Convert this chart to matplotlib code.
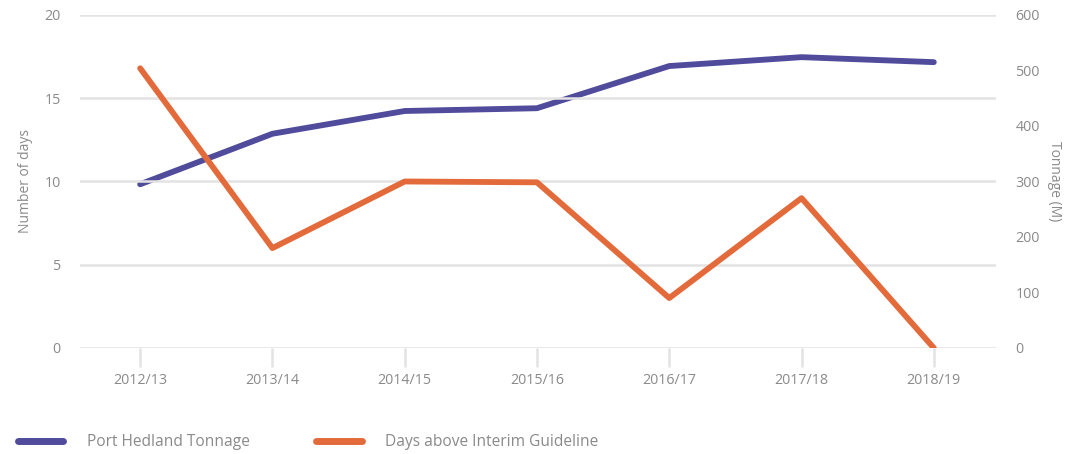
import matplotlib.pyplot as plt
from matplotlib.lines import Line2D

years = ["2012/13", "2013/14", "2014/15", "2015/16", "2016/17", "2017/18", "2018/19"]
days_above = [16.8, 6, 10, 9.95, 3, 9, 0]
tonnage = [295, 386, 427, 432, 508, 524, 515]

PURPLE = "#504c9b"
ORANGE = "#e36b3b"
GREY = "#8a8a8a"
GRID = "#e3e3e3"

plt.rcParams['font.family'] = ['Open Sans', 'DejaVu Sans']

fig = plt.figure(figsize=(10.69, 4.54), dpi=100)
ax = fig.add_axes([0.0748, 0.2335, 0.9317 - 0.0748, 0.967 - 0.2335])
ax2 = ax.twinx()

x = list(range(len(years)))

ax.plot(x, days_above, color=ORANGE, lw=4.2, solid_capstyle="round", zorder=3)
ax2.plot(x, tonnage, color=PURPLE, lw=4.2, solid_capstyle="round", zorder=2)
ax.set_zorder(ax2.get_zorder() + 1)
ax.patch.set_visible(False)

ax.set_xlim(-0.455, 6.47)
ax.set_ylim(0, 20)
ax2.set_ylim(0, 600)
ax.set_yticks([0, 5, 10, 15, 20])
ax2.set_yticks([0, 100, 200, 300, 400, 500, 600])
ax.set_xticks(x)
ax.set_xticklabels(years)

ax.grid(axis="y", color=GRID, lw=1.8)
ax.set_axisbelow(True)
for a in (ax, ax2):
    for s in a.spines.values():
        s.set_visible(False)

ax.tick_params(axis="x", length=14, width=1.8, color=GRID, labelcolor=GREY, labelsize=10.3, pad=4)
ax.tick_params(axis="y", length=0, labelcolor=GREY, labelsize=10.3, pad=14)
ax2.tick_params(axis="y", length=0, labelcolor=GREY, labelsize=10.3, pad=14)

ax.set_ylabel("Number of days", color=GREY, fontsize=10, labelpad=8)
ax2.set_ylabel("Tonnage (M)", color=GREY, fontsize=10, rotation=270, labelpad=16)

handles = [Line2D([], [], color=PURPLE, lw=5, solid_capstyle="round"),
           Line2D([], [], color=ORANGE, lw=5, solid_capstyle="round")]
fig.legend(handles, ["Port Hedland Tonnage", "Days above Interim Guideline"],
           loc="lower left", bbox_to_anchor=(0.004, -0.022), ncol=2, frameon=False,
           handlelength=2.9, handletextpad=1.5, columnspacing=4.3,
           labelcolor=GREY, fontsize=11.2)

fig.savefig("out.png", dpi=100)
